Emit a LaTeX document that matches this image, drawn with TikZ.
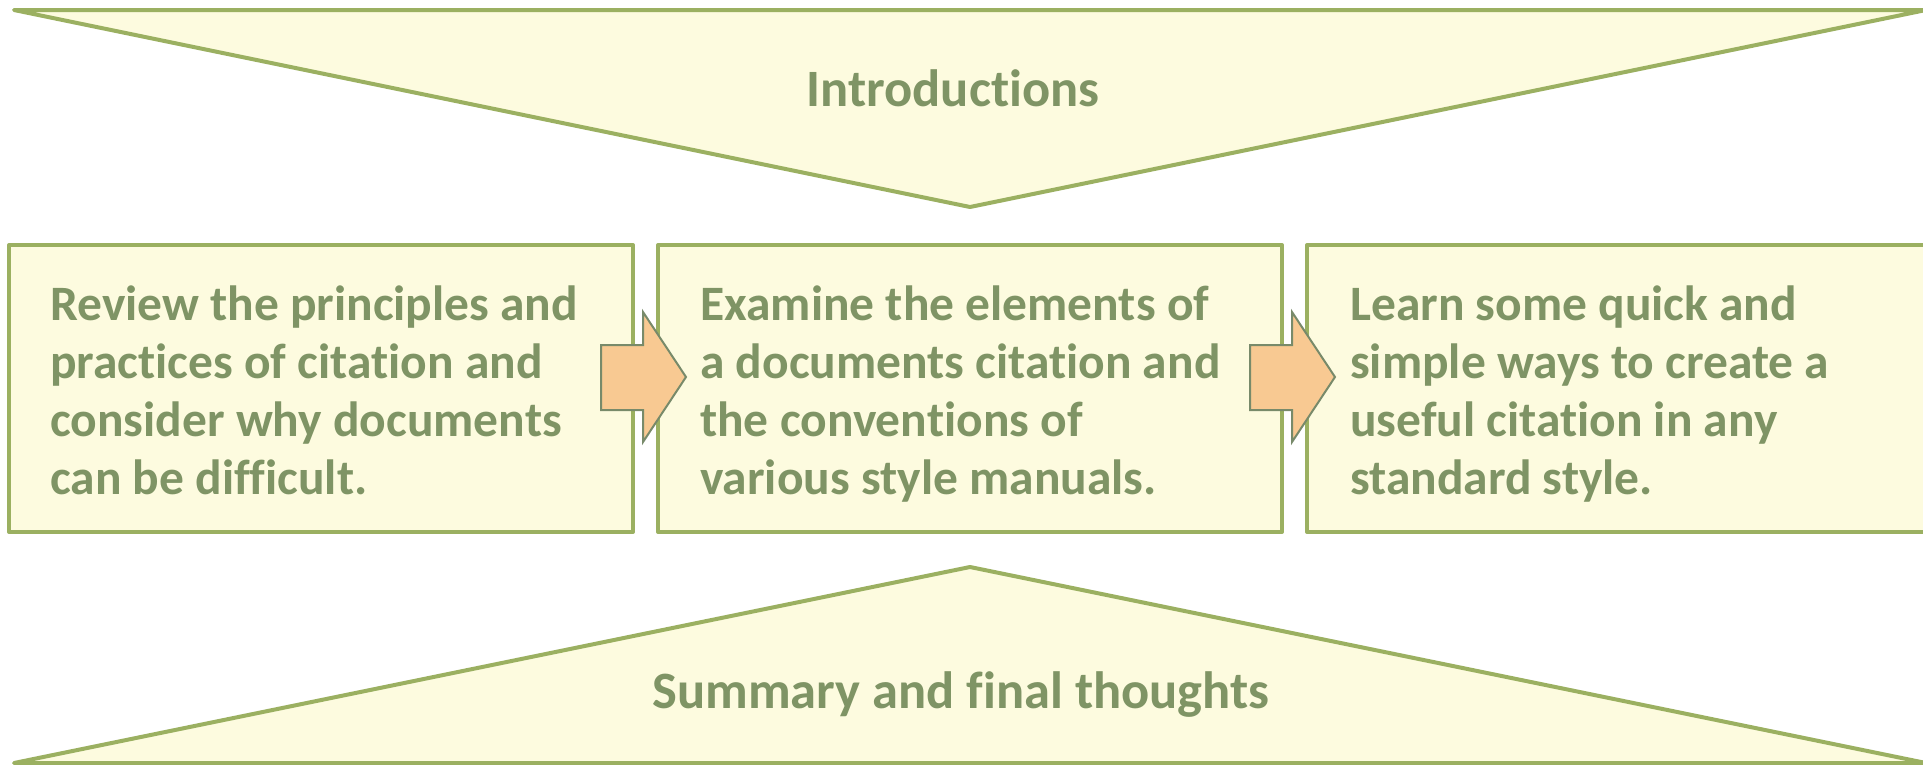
\documentclass[tikz,border=0pt]{standalone}
\usepackage{fontspec}
\setmainfont{Carlito}[Ligatures=NoCommon]
\usetikzlibrary{calc}

\definecolor{edgegreen}{HTML}{9BB061}
\definecolor{panelfill}{HTML}{FDFBDF}
\definecolor{inkgreen}{HTML}{7F9465}
\definecolor{arrowfill}{HTML}{F8C992}
\definecolor{arrowedge}{HTML}{788A6A}

\begin{document}
\begin{tikzpicture}[x=1pt,y=-1pt,
  panel/.style={draw=edgegreen, fill=panelfill, line width=4pt, line join=round},
  stepbox/.style={panel, rectangle, minimum width=624pt, minimum height=287pt,
    inner sep=0pt, outer sep=0pt, anchor=north west},
  boxtext/.style={anchor=north west, inner sep=0pt, align=left, text=inkgreen,
    font=\fontsize{49.5}{58}\selectfont\bfseries},
  headtext/.style={anchor=base, inner sep=0pt, text=inkgreen,
    font=\fontsize{52.5}{60}\selectfont\bfseries},
  blockarrow/.style={draw=arrowedge, fill=arrowfill, line width=2pt, line join=miter}]
\useasboundingbox (0,0) rectangle (1923,764);
\clip (0,0) rectangle (1923,764);

% opening funnel
\coordinate (inL) at (14,10);
\coordinate (inR) at (1926,10);
\coordinate (inTip) at (970,207);
\draw[panel] (inL) -- (inR) -- (inTip) -- cycle;
\node[headtext] (intro) at (953,106) {Introductions};

% closing funnel
\coordinate (outL) at (14,763);
\coordinate (outR) at (1926,763);
\coordinate (outTip) at (970,567);
\draw[panel] (outL) -- (outTip) -- (outR) -- cycle;
\node[headtext] (summary) at (961,708) {Summary and final thoughts};

% the three steps
\node[stepbox] (b1) at (9,245) {};
\node[stepbox] (b2) at (658,245) {};
\node[stepbox] (b3) at (1307,245) {};

\node[boxtext] (t1) at ($(b1.north west)+(41,30)$)
  {\rule{0pt}{45pt}Review the principles and\\practices of citation and\\consider why documents\\can be difficult.};
\node[boxtext] (t2) at ($(b2.north west)+(42,30)$)
  {\rule{0pt}{45pt}Examine the elements of\\a documents citation and\\the conventions of\\various style manuals.};
\node[boxtext] (t3) at ($(b3.north west)+(43,30)$)
  {\rule{0pt}{45pt}Learn some quick and\\simple ways to create a\\useful citation in any\\standard style.};

% block arrows between neighbouring steps
\foreach \src in {b1,b2}{
  \draw[blockarrow] ($(\src.north east)+(-32,100)$) -- ($(\src.north east)+(10,100)$)
    -- ($(\src.north east)+(10,67)$) -- ($(\src.north east)+(53,132)$)
    -- ($(\src.north east)+(10,197)$) -- ($(\src.north east)+(10,165)$)
    -- ($(\src.north east)+(-32,165)$) -- cycle;
}
\end{tikzpicture}
\end{document}
